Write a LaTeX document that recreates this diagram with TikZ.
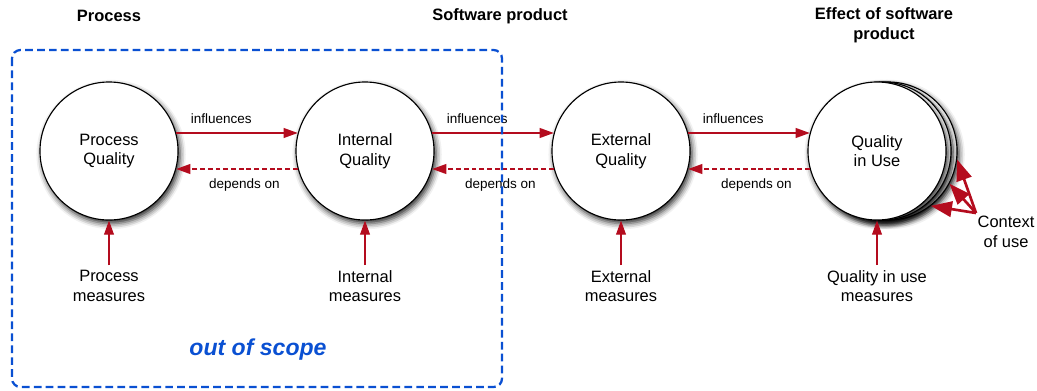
\documentclass[tikz,border=0pt]{standalone}
\usepackage{fontspec}
\setmainfont{Liberation Sans}
\usetikzlibrary{shadows.blur,arrows.meta}
\definecolor{arrowred}{RGB}{180,12,30}
\definecolor{scopeblue}{RGB}{10,80,210}
\tikzset{
  quality/.style={circle, draw, line width=0.8pt, fill=white, minimum size=3.45cm, inner sep=0pt, align=center,
    font=\fontsize{11.7}{14}\selectfont,
    blur shadow={shadow xshift=1.5pt, shadow yshift=-2.5pt, shadow blur radius=4pt, shadow opacity=85}},
  measure/.style={align=center, font=\fontsize{11.7}{14}\selectfont},
  colhead/.style={align=center, font=\fontsize{11.7}{14}\selectfont\bfseries},
  lbl/.style={font=\fontsize{9.6}{11}\selectfont, text=black},
  infl/.style={arrowred, line width=0.9pt, -{Triangle[length=10pt,width=7pt]}},
  dep/.style={infl, dash pattern=on 3.5pt off 2pt},
  ctxarrow/.style={arrowred, line width=1.9pt, -{Triangle[length=15pt,width=11pt]}},
  scope/.style={scopeblue, line width=1.6pt, dash pattern=on 5.5pt off 3pt, rounded corners=6pt}
}
\begin{document}
\begin{tikzpicture}[x=0.025cm,y=-0.025cm]
\useasboundingbox (0,0) rectangle (1037,390);
% headings
\node[colhead] (tproc) at (109,16) {Process};
\node[colhead] (tsoft) at (500,16) {Software product};
\node[colhead] (teff) at (884,25) {Effect of software\\product};
% quality circles
\node[quality] (pq) at (109,151) {Process\\Quality};
\node[quality] (iq) at (365,151) {Internal\\Quality};
\node[quality] (eq) at (621,151) {External\\Quality};
\node[quality] (qu3) at (888,151) {};
\node[quality] (qu2) at (882,151) {};
\node[quality] (qu) at (877,151) {Quality\\in Use};
% measures
\node[measure] (pm) at (109,286) {Process\\measures};
\node[measure] (im) at (365,286) {Internal\\measures};
\node[measure] (em) at (621,286) {External\\measures};
\node[measure] (qm) at (877,286) {Quality in use\\measures};
\draw[infl] (pm) -- (pq);
\draw[infl] (im) -- (iq);
\draw[infl] (em) -- (eq);
\draw[infl] (qm) -- (qu);
% influences / depends on
\draw[infl] (pq.15) -- node[lbl,above=3pt,pos=0.37] {influences} (iq.165);
\draw[dep] (iq.-165) -- node[lbl,below=3pt,pos=0.44] {depends on} (pq.-15);
\draw[infl] (iq.15) -- node[lbl,above=3pt,pos=0.37] {influences} (eq.165);
\draw[dep] (eq.-165) -- node[lbl,below=3pt,pos=0.44] {depends on} (iq.-15);
\draw[infl] (eq.15) -- node[lbl,above=3pt,pos=0.37] {influences} (qu.165);
\draw[dep] (qu.-165) -- node[lbl,below=3pt,pos=0.44] {depends on} (eq.-15);
% context of use
\node[measure] (ctx) at (1006,232) {Context\\of use};
\coordinate (ctxfoot) at (976,213);
\draw[ctxarrow] (ctxfoot) -- (qu3.-7);
\draw[ctxarrow] (ctxfoot) -- (qu3.-28);
\draw[ctxarrow] (ctxfoot) -- (qu3.-52);
% out of scope
\draw[scope] (12,50) rectangle (502,387);
\node[text=scopeblue, font=\fontsize{16.4}{18}\selectfont\bfseries\itshape] (oos) at (258,350) {out of scope};
\end{tikzpicture}
\end{document}
